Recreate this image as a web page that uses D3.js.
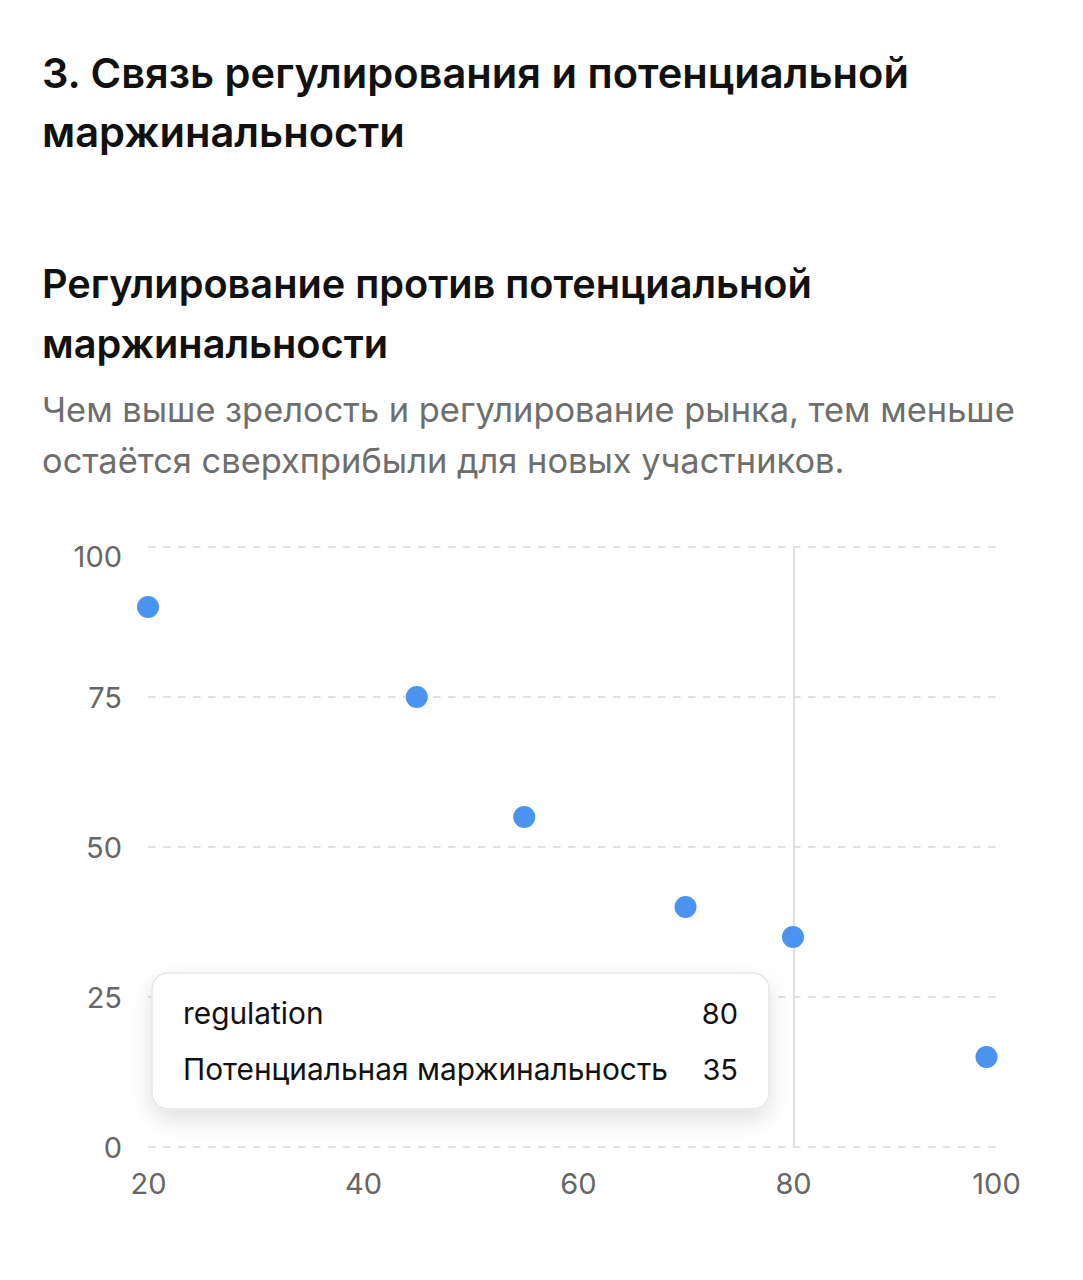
<!DOCTYPE html>
<html>
<head>
<meta charset="utf-8">
<script src="https://cdn.jsdelivr.net/npm/d3@7/dist/d3.min.js"></script>
<style>
  html, body { margin: 0; padding: 0; background: #fff; }
  svg { display: block; font-family: Inter, "Noto Sans", Roboto, sans-serif; }
</style>
</head>
<body>
<svg id="chart" width="1083" height="1280"></svg>
<script>
// ---- data ----
const titleLines = ["3. Связь регулирования и потенциальной", "маржинальности"];
const subtitleLines = ["Регулирование против потенциальной", "маржинальности"];
const descLines = ["Чем выше зрелость и регулирование рынка, тем меньше", "остаётся сверхприбыли для новых участников."];
const regulation = [20, 45, 55, 70, 80, 98];
const marginality = [90, 75, 55, 40, 35, 15];
const xTicks = [20, 40, 60, 80, 100];
const yTicks = [0, 25, 50, 75, 100];
const tooltipLabels = ["regulation", "Потенциальная маржинальность"];
const activeIndex = 4;

const svg = d3.select("#chart");

// fit text to a target width by adjusting font size
function fitText(sel, targetWidth) {
  const node = sel.node();
  const fs = parseFloat(sel.attr("font-size"));
  const w = node.getComputedTextLength();
  if (w > 0) sel.attr("font-size", (fs * targetWidth / w).toFixed(2));
}

// ---- headings ----
const t1 = svg.append("text").attr("x", 42).attr("y", 88).attr("font-size", 38).attr("font-weight", 600).attr("fill", "#111").text(titleLines[0]);
fitText(t1, 867);
const t1fs = t1.attr("font-size");
svg.append("text").attr("x", 42).attr("y", 147).attr("font-size", t1fs).attr("font-weight", 600).attr("fill", "#111").text(titleLines[1]);

const s1 = svg.append("text").attr("x", 42).attr("y", 298).attr("font-size", 35).attr("font-weight", 600).attr("fill", "#111").text(subtitleLines[0]);
fitText(s1, 770);
const s1fs = s1.attr("font-size");
svg.append("text").attr("x", 42).attr("y", 358).attr("font-size", s1fs).attr("font-weight", 600).attr("fill", "#111").text(subtitleLines[1]);

const d1 = svg.append("text").attr("x", 42).attr("y", 422).attr("font-size", 30).attr("fill", "#6e6e6e").text(descLines[0]);
fitText(d1, 973);
const d1fs = d1.attr("font-size");
svg.append("text").attr("x", 42).attr("y", 473).attr("font-size", d1fs).attr("fill", "#6e6e6e").text(descLines[1]);

// ---- scales ----
const x = d3.scaleLinear().domain([20, 100]).range([148, 1008]);
const y = d3.scaleLinear().domain([0, 100]).range([1147, 547]);

// grid lines
svg.append("g")
  .selectAll("line")
  .data(yTicks)
  .join("line")
  .attr("x1", x(20)).attr("x2", x(100) - 5)
  .attr("y1", d => y(d)).attr("y2", d => y(d))
  .attr("stroke", "#e2e2e2").attr("stroke-width", 2)
  .attr("stroke-dasharray", "7.5 7.5");

// cursor line
svg.append("line")
  .attr("x1", x(regulation[activeIndex]) + 1).attr("x2", x(regulation[activeIndex]) + 1)
  .attr("y1", y(100)).attr("y2", y(0))
  .attr("stroke", "#e0e0e0").attr("stroke-width", 2);

// axes
const yAxis = svg.append("g")
  .attr("transform", `translate(${x(20) - 26},0)`)
  .call(d3.axisLeft(y).tickValues(yTicks).tickSize(0).tickPadding(0));
yAxis.select(".domain").remove();
yAxis.selectAll("text")
  .attr("font-size", 29).attr("fill", "#666").attr("font-family", "Inter, 'Noto Sans', sans-serif")
  .attr("dy", d => d === 100 ? "0.68em" : "0.35em");

const xAxis = svg.append("g")
  .attr("transform", `translate(0,${y(0) + 26})`)
  .call(d3.axisBottom(x).tickValues(xTicks).tickSize(0).tickPadding(0));
xAxis.select(".domain").remove();
xAxis.selectAll("text")
  .attr("font-size", 29).attr("fill", "#666").attr("font-family", "Inter, 'Noto Sans', sans-serif")
  .attr("dy", "0.71em")
  .attr("dx", d => d === 100 ? -12 : 0);

// points
svg.append("g")
  .selectAll("circle")
  .data(regulation.map((r, i) => ({ r, m: marginality[i] })))
  .join("circle")
  .attr("cx", d => x(d.r)).attr("cy", d => y(d.m))
  .attr("r", 11)
  .attr("fill", "#4a93ee");

// tooltip
const defs = svg.append("defs");
const f = defs.append("filter").attr("id", "shadow").attr("x", "-20%").attr("y", "-30%").attr("width", "140%").attr("height", "180%");
f.append("feDropShadow").attr("dx", 0).attr("dy", 10).attr("stdDeviation", 12).attr("flood-color", "#000").attr("flood-opacity", 0.12);

const tip = svg.append("g");
tip.append("rect")
  .attr("x", 152).attr("y", 973).attr("width", 617).attr("height", 136)
  .attr("rx", 16).attr("ry", 16)
  .attr("fill", "#fff").attr("stroke", "#e6e6e6").attr("stroke-width", 1.5)
  .attr("filter", "url(#shadow)");

const tipValues = [regulation[activeIndex], marginality[activeIndex]];
const rowY = [1024, 1080];
tooltipLabels.forEach((lab, i) => {
  const t = tip.append("text").attr("x", 183).attr("y", rowY[i]).attr("font-size", 28).attr("fill", "#111").text(lab);
  if (i === 1) fitText(t, 485);
  tip.append("text").attr("x", 738).attr("y", rowY[i]).attr("font-size", 29).attr("fill", "#111")
    .attr("text-anchor", "end").text(tipValues[i]);
});
// make first label same size as second
const fsTip = tip.selectAll("text").filter((d, i) => i === 2).attr("font-size");
tip.selectAll("text").filter((d, i) => i === 0).attr("font-size", fsTip);
</script>
</body>
</html>
